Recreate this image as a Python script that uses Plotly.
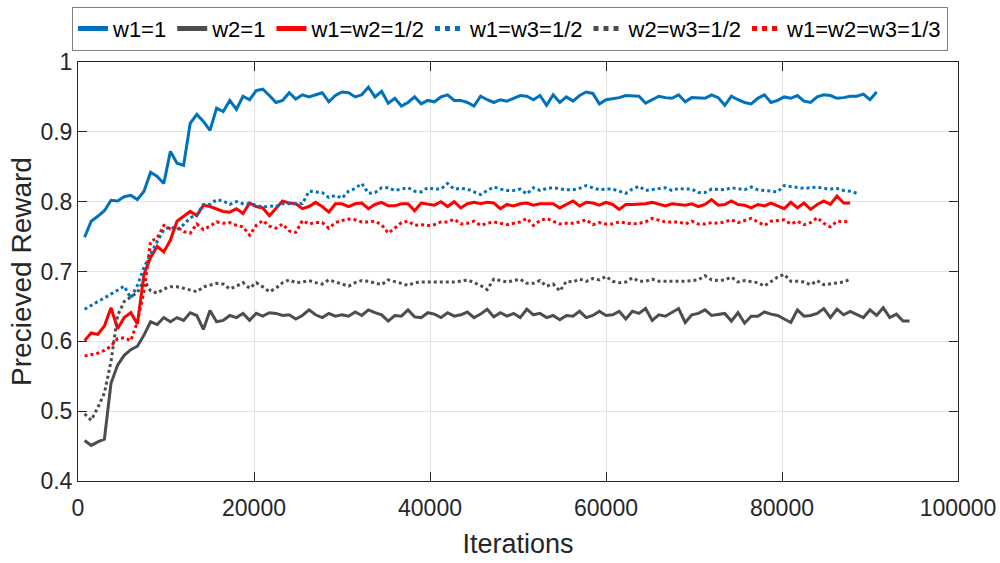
import plotly.graph_objects as go

# Sampling interval of the logged rewards (iterations between points)
ITER_STEP = 750

# Perceived reward per weighting scheme, one value every ITER_STEP iterations
w1_1 = [
    0.749, 0.772, 0.779, 0.787, 0.802, 0.801, 0.807, 0.809, 0.803, 0.815,
    0.842, 0.836, 0.826, 0.872, 0.855, 0.852, 0.912, 0.925, 0.915, 0.902,
    0.934, 0.929, 0.945, 0.932, 0.951, 0.946, 0.959, 0.961, 0.952, 0.942,
    0.945, 0.956, 0.947, 0.953, 0.950, 0.953, 0.956, 0.943, 0.952, 0.957,
    0.956, 0.950, 0.953, 0.964, 0.950, 0.958, 0.941, 0.948, 0.937, 0.942,
    0.950, 0.940, 0.945, 0.943, 0.950, 0.953, 0.945, 0.945, 0.942, 0.937,
    0.951, 0.946, 0.942, 0.946, 0.944, 0.948, 0.952, 0.951, 0.946, 0.952,
    0.938, 0.953, 0.942, 0.950, 0.944, 0.952, 0.957, 0.955, 0.940, 0.946,
    0.947, 0.949, 0.952, 0.951, 0.951, 0.941, 0.946, 0.951, 0.949, 0.948,
    0.953, 0.943, 0.949, 0.949, 0.948, 0.953, 0.949, 0.938, 0.951, 0.946,
    0.942, 0.940, 0.948, 0.953, 0.942, 0.945, 0.950, 0.948, 0.952, 0.944,
    0.942, 0.950, 0.953, 0.952, 0.948, 0.949, 0.951, 0.951, 0.954, 0.946,
    0.957,
]

w2_1 = [
    0.458, 0.451, 0.456, 0.460, 0.540, 0.566, 0.580, 0.588, 0.593, 0.609,
    0.628, 0.624, 0.634, 0.628, 0.634, 0.630, 0.641, 0.637, 0.617, 0.644,
    0.628, 0.630, 0.637, 0.634, 0.640, 0.630, 0.640, 0.636, 0.641, 0.640,
    0.637, 0.638, 0.632, 0.637, 0.645, 0.638, 0.634, 0.640, 0.636, 0.638,
    0.636, 0.642, 0.637, 0.645, 0.641, 0.638, 0.629, 0.637, 0.636, 0.645,
    0.635, 0.634, 0.641, 0.639, 0.634, 0.641, 0.636, 0.638, 0.642, 0.634,
    0.639, 0.646, 0.635, 0.641, 0.636, 0.640, 0.634, 0.646, 0.638, 0.640,
    0.634, 0.637, 0.631, 0.637, 0.636, 0.643, 0.634, 0.637, 0.643, 0.637,
    0.638, 0.643, 0.632, 0.643, 0.640, 0.647, 0.630, 0.638, 0.636, 0.642,
    0.647, 0.627, 0.638, 0.640, 0.645, 0.637, 0.638, 0.640, 0.629, 0.641,
    0.626, 0.636, 0.636, 0.642, 0.639, 0.637, 0.632, 0.627, 0.645, 0.636,
    0.637, 0.640, 0.647, 0.634, 0.646, 0.638, 0.643, 0.638, 0.634, 0.645,
    0.637, 0.648, 0.634, 0.639, 0.629, 0.629,
]

w1_w2_half = [
    0.601, 0.612, 0.610, 0.622, 0.648, 0.618, 0.634, 0.641, 0.625, 0.696,
    0.720, 0.736, 0.728, 0.745, 0.772, 0.779, 0.786, 0.780, 0.795, 0.793,
    0.790, 0.786, 0.785, 0.790, 0.783, 0.798, 0.793, 0.791, 0.780, 0.790,
    0.801, 0.798, 0.797, 0.790, 0.793, 0.799, 0.793, 0.785, 0.797, 0.797,
    0.793, 0.797, 0.798, 0.790, 0.796, 0.799, 0.794, 0.794, 0.797, 0.797,
    0.787, 0.798, 0.797, 0.795, 0.800, 0.793, 0.800, 0.791, 0.797, 0.799,
    0.797, 0.799, 0.798, 0.790, 0.796, 0.794, 0.797, 0.798, 0.795, 0.797,
    0.797, 0.797, 0.791, 0.796, 0.801, 0.794, 0.799, 0.798, 0.795, 0.799,
    0.796, 0.789, 0.796, 0.796, 0.796, 0.797, 0.799, 0.796, 0.794, 0.797,
    0.796, 0.795, 0.797, 0.793, 0.796, 0.803, 0.795, 0.796, 0.801, 0.796,
    0.795, 0.791, 0.796, 0.794, 0.798, 0.794, 0.790, 0.799, 0.791, 0.798,
    0.789, 0.796, 0.801, 0.796, 0.808, 0.798, 0.798,
]

w1_w3_half = [
    0.646, 0.652, 0.657, 0.662, 0.668, 0.674, 0.679, 0.662, 0.680, 0.706,
    0.725, 0.743, 0.760, 0.764, 0.760, 0.767, 0.777, 0.781, 0.796, 0.796,
    0.803, 0.801, 0.796, 0.800, 0.797, 0.797, 0.795, 0.792, 0.794, 0.793,
    0.797, 0.797, 0.798, 0.797, 0.815, 0.814, 0.813, 0.806, 0.809, 0.805,
    0.815, 0.819, 0.826, 0.812, 0.813, 0.820, 0.820, 0.816, 0.818, 0.820,
    0.815, 0.814, 0.820, 0.818, 0.818, 0.826, 0.818, 0.819, 0.818, 0.814,
    0.810, 0.816, 0.821, 0.818, 0.816, 0.816, 0.818, 0.811, 0.820, 0.816,
    0.819, 0.820, 0.818, 0.817, 0.817, 0.819, 0.823, 0.820, 0.817, 0.818,
    0.818, 0.815, 0.812, 0.818, 0.822, 0.816, 0.817, 0.818, 0.820, 0.816,
    0.819, 0.818, 0.818, 0.813, 0.813, 0.818, 0.817, 0.817, 0.820, 0.818,
    0.817, 0.821, 0.817, 0.816, 0.815, 0.814, 0.823, 0.822, 0.820, 0.819,
    0.820, 0.821, 0.819, 0.818, 0.819, 0.816, 0.815, 0.812,
]

w2_w3_half = [
    0.496, 0.487, 0.505, 0.526, 0.571, 0.637, 0.657, 0.664, 0.670, 0.688,
    0.672, 0.669, 0.675, 0.678, 0.678, 0.676, 0.674, 0.671, 0.678, 0.681,
    0.683, 0.682, 0.675, 0.679, 0.684, 0.676, 0.684, 0.678, 0.671, 0.676,
    0.684, 0.688, 0.684, 0.685, 0.687, 0.684, 0.682, 0.688, 0.685, 0.681,
    0.679, 0.684, 0.687, 0.686, 0.683, 0.681, 0.688, 0.686, 0.683, 0.680,
    0.684, 0.685, 0.685, 0.684, 0.684, 0.685, 0.685, 0.686, 0.688, 0.684,
    0.680, 0.674, 0.689, 0.687, 0.685, 0.687, 0.689, 0.683, 0.683, 0.687,
    0.679, 0.682, 0.672, 0.686, 0.685, 0.689, 0.686, 0.690, 0.688, 0.693,
    0.686, 0.684, 0.685, 0.691, 0.686, 0.686, 0.689, 0.686, 0.686, 0.686,
    0.685, 0.686, 0.687, 0.688, 0.694, 0.688, 0.687, 0.688, 0.692, 0.685,
    0.687, 0.685, 0.684, 0.679, 0.685, 0.692, 0.696, 0.686, 0.686, 0.685,
    0.681, 0.687, 0.681, 0.682, 0.684, 0.685, 0.689,
]

w1_w2_w3_third = [
    0.579, 0.581, 0.583, 0.587, 0.593, 0.604, 0.605, 0.601, 0.628, 0.672,
    0.743, 0.748, 0.766, 0.761, 0.764, 0.757, 0.755, 0.768, 0.760, 0.765,
    0.771, 0.769, 0.770, 0.766, 0.764, 0.752, 0.766, 0.773, 0.765, 0.762,
    0.768, 0.758, 0.756, 0.773, 0.768, 0.770, 0.770, 0.762, 0.770, 0.773,
    0.775, 0.774, 0.771, 0.771, 0.772, 0.767, 0.755, 0.762, 0.770, 0.772,
    0.766, 0.767, 0.766, 0.767, 0.771, 0.771, 0.775, 0.768, 0.769, 0.772,
    0.766, 0.769, 0.771, 0.769, 0.767, 0.769, 0.771, 0.776, 0.766, 0.773,
    0.776, 0.772, 0.768, 0.769, 0.769, 0.771, 0.774, 0.767, 0.770, 0.768,
    0.768, 0.771, 0.769, 0.768, 0.769, 0.771, 0.776, 0.774, 0.771, 0.771,
    0.771, 0.768, 0.772, 0.768, 0.768, 0.770, 0.769, 0.771, 0.774, 0.770,
    0.773, 0.776, 0.771, 0.766, 0.772, 0.773, 0.774, 0.768, 0.772, 0.767,
    0.770, 0.777, 0.769, 0.764, 0.772, 0.771, 0.772,
]

series_names = ["w1=1", "w2=1", "w1=w2=1/2", "w1=w3=1/2", "w2=w3=1/2", "w1=w2=w3=1/3"]
series_values = [w1_1, w2_1, w1_w2_half, w1_w3_half, w2_w3_half, w1_w2_w3_third]
series_colors = ["#0072BD", "#4D4D4D", "#FF0000", "#0072BD", "#4D4D4D", "#FF0000"]
series_dash = ["solid", "solid", "solid", "dot", "dot", "dot"]

x_ticks = [0, 20000, 40000, 60000, 80000, 100000]
y_ticks = [0.4, 0.5, 0.6, 0.7, 0.8, 0.9, 1.0]
y_tick_text = ["0.4", "0.5", "0.6", "0.7", "0.8", "0.9", "1"]

FONT = "Liberation Sans, Arial, sans-serif"
AXIS_COLOR = "#262626"

fig = go.Figure()
for name, vals, color, dash in zip(series_names, series_values, series_colors, series_dash):
    fig.add_trace(go.Scatter(
        x=[ITER_STEP * (i + 1) for i in range(len(vals))],
        y=vals,
        mode="lines",
        name=name,
        line=dict(color=color, width=3, dash=dash),
    ))

axis_common = dict(
    showline=True, linecolor=AXIS_COLOR, linewidth=1, mirror="ticks",
    ticks="inside", ticklen=9, tickcolor=AXIS_COLOR, tickwidth=1,
    showgrid=True, gridcolor="#E3E3E3", gridwidth=1, zeroline=False,
    tickfont=dict(family=FONT, size=23, color=AXIS_COLOR),
)

fig.update_layout(
    width=1000, height=563,
    margin=dict(l=78, r=42, t=62, b=82, autoexpand=False),
    paper_bgcolor="white", plot_bgcolor="white",
    font=dict(family=FONT, color=AXIS_COLOR),
    xaxis=dict(
        range=[0, 100000], tickvals=x_ticks, ticktext=[str(v) for v in x_ticks],
        ticklabelstandoff=6,
        title=dict(text="Iterations", font=dict(family=FONT, size=27, color=AXIS_COLOR), standoff=14),
        **axis_common,
    ),
    yaxis=dict(
        range=[0.4, 1.0], tickvals=y_ticks, ticktext=y_tick_text,
        title=dict(text="Precieved Reward", font=dict(family=FONT, size=28, color=AXIS_COLOR), standoff=0),
        **axis_common,
    ),
    legend=dict(
        orientation="h", xref="container", yref="container",
        x=0.072, y=0.988, xanchor="left", yanchor="top",
        bordercolor="#7F7F7F", borderwidth=1, bgcolor="white",
        font=dict(family=FONT, size=22, color="#000000"),
        itemwidth=30, tracegroupgap=0, itemsizing="constant",
    ),
    showlegend=True,
)

fig.write_html("out.html")
